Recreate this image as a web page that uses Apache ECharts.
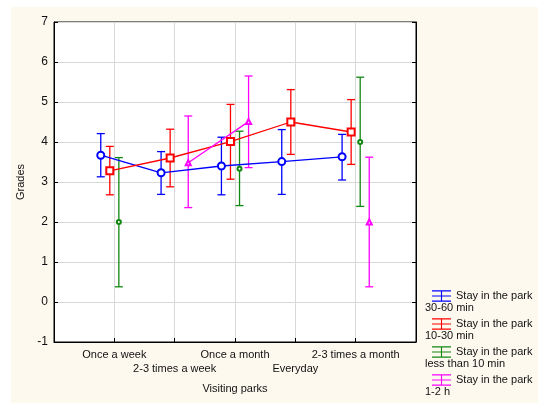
<!DOCTYPE html>
<html>
<head>
<meta charset="utf-8">
<script src="https://cdn.jsdelivr.net/npm/echarts@6/dist/echarts.min.js"></script>
<style>
html, body { margin: 0; padding: 0; background: #fff; }
#wrap { position: relative; width: 550px; height: 411px; }
#bg { position: absolute; left: 11px; top: 7px; width: 527px; height: 396px; background: #fdf9ef; }
#chart { position: absolute; left: 0; top: 0; width: 550px; height: 411px; }
</style>
</head>
<body>
<div id="wrap"><div id="bg"></div><div id="chart"></div></div>
<script>
// categories on the x axis (placed at 1..5)
var categories = ['Once a week', '2-3 times a week', 'Once a month', 'Everyday', '2-3 times a month'];
var yTicks = [-1, 0, 1, 2, 3, 4, 5, 6, 7];

// Stay in the park 30-60 min
var blueMean = [3.67, 3.23, 3.40, 3.51, 3.63];
var blueLow  = [3.13, 2.69, 2.68, 2.69, 3.05];
var blueHigh = [4.21, 3.76, 4.12, 4.31, 4.19];
// Stay in the park 10-30 min
var redMean = [3.28, 3.60, 4.01, 4.50, 4.25];
var redLow  = [2.68, 2.88, 3.07, 3.69, 3.44];
var redHigh = [3.89, 4.32, 4.94, 5.31, 5.06];
// Stay in the park less than 10 min
var greenMean = [2.00, null, 3.33, null, 4.00];
var greenLow  = [0.38, null, 2.41, null, 2.39];
var greenHigh = [3.61, null, 4.27, null, 5.62];
// Stay in the park 1-2 h
var pinkMean = [null, 3.48, 4.51, null, 2.00];
var pinkLow  = [null, 2.36, 3.36, null, 0.38];
var pinkHigh = [null, 4.65, 5.65, null, 3.62];

var groups = [
    {name: 'Stay in the park\n30-60 min', color: '#0000ff', off: -0.225, mean: blueMean, low: blueLow, high: blueHigh, symbol: 'emptyCircle', size: 7},
    {name: 'Stay in the park\n10-30 min', color: '#ff0000', off: -0.075, mean: redMean, low: redLow, high: redHigh, symbol: 'emptyRect', size: 7},
    {name: 'Stay in the park\nless than 10 min', color: '#118811', off: 0.075, mean: greenMean, low: greenLow, high: greenHigh, symbol: 'emptyCircle', size: 4},
    {name: 'Stay in the park\n1-2 h', color: '#ff00ff', off: 0.225, mean: pinkMean, low: pinkLow, high: pinkHigh, symbol: 'emptyTriangle', size: 5}
];

var font = 'Liberation Sans, Arial, sans-serif';
var series = [];
groups.forEach(function (g) {
    var bars = [];
    var pts = [];
    g.mean.forEach(function (m, i) {
        var x = i + 1 + g.off;
        if (m === null) { pts.push([x, '-']); return; }
        pts.push([x, m]);
        bars.push([x, g.low[i], g.high[i]]);
    });
    series.push({
        type: 'custom', name: g.name + ' err', data: bars, z: 2,
        renderItem: function (params, api) {//画误差线
            var top = api.coord([api.value(0), api.value(2)]);
            var bot = api.coord([api.value(0), api.value(1)]);
            var st = {stroke: g.color, lineWidth: 1.3};
            return {type: 'group', children: [
                {type: 'line', shape: {x1: top[0], y1: top[1], x2: bot[0], y2: bot[1]}, style: st},
                {type: 'line', shape: {x1: top[0] - 4, y1: top[1], x2: top[0] + 4, y2: top[1]}, style: st},
                {type: 'line', shape: {x1: bot[0] - 4, y1: bot[1], x2: bot[0] + 4, y2: bot[1]}, style: st}
            ]};
        }
    });
    series.push({
        type: 'line', name: g.name, data: pts, z: 3,
        symbol: g.symbol, symbolSize: g.size, connectNulls: false,
        lineStyle: {color: g.color, width: 1.3},
        itemStyle: {color: g.color, borderWidth: 1.3}
    });
});

var myChart = echarts.init(document.getElementById('chart'));
option = {
    animation: false,
    backgroundColor: 'transparent',
    textStyle: {fontFamily: font},
    grid: {left: 54, top: 22, right: 134, bottom: 69, show: true, backgroundColor: '#fff', borderColor: '#000', borderWidth: 1},
    legend: {
        orient: 'vertical', left: 427, top: 284, itemGap: 14,
        itemWidth: 19, itemHeight: 12,
        icon: 'path://M0,0h20v1.2h-20z M0,10.8h20v1.2h-20z M0,5.4h20v1.2h-20z M9.4,0h1.2v12h-1.2z',
        formatter: function (n) { return n.split('\n')[0]; },
        textStyle: {fontSize: 11, color: '#111', lineHeight: 14, fontFamily: font},
        data: groups.map(function (g) { return g.name; })
    },
    graphic: groups.map(function (g, i) {
        return {type: 'text', left: 425, top: 302 + i * 28, style: {text: g.name.split('\n')[1], font: '11px ' + font, fill: '#111'}};
    }),
    xAxis: {
        type: 'value', min: 0, max: 6, interval: 1,
        name: 'Visiting parks', nameLocation: 'middle', nameGap: 41,
        nameTextStyle: {fontSize: 11, color: '#111'},
        axisLine: {onZero: false, lineStyle: {color: '#000'}},
        axisTick: {inside: true, length: 4, lineStyle: {color: '#000'}},
        splitLine: {lineStyle: {color: '#d8d8d8'}},
        axisLabel: {fontSize: 11, color: '#111', margin: 6, lineHeight: 14,
            formatter: function (v) {
                if (v < 1 || v > categories.length) return '';
                return v % 2 === 0 ? '\n' + categories[v - 1] : categories[v - 1];
            }}
    },
    yAxis: [{
        type: 'value', min: yTicks[0], max: yTicks[yTicks.length - 1], interval: 1,
        name: 'Grades', nameLocation: 'middle', nameGap: 20, nameRotate: 90,
        nameTextStyle: {fontSize: 11, color: '#111'},
        axisLine: {onZero: false, lineStyle: {color: '#000'}},
        axisTick: {inside: true, length: 4, lineStyle: {color: '#000'}},
        splitLine: {lineStyle: {color: '#d8d8d8'}},
        axisLabel: {fontSize: 12, color: '#111', margin: 6}
    }, {
        type: 'value', position: 'right', min: yTicks[0], max: yTicks[yTicks.length - 1], interval: 1,
        axisLine: {show: true, onZero: false, lineStyle: {color: '#000'}},
        axisTick: {inside: true, length: 4, lineStyle: {color: '#000'}},
        splitLine: {show: false}, axisLabel: {show: false}
    }],
    series: series
};
myChart.setOption(option);
</script>
</body>
</html>
